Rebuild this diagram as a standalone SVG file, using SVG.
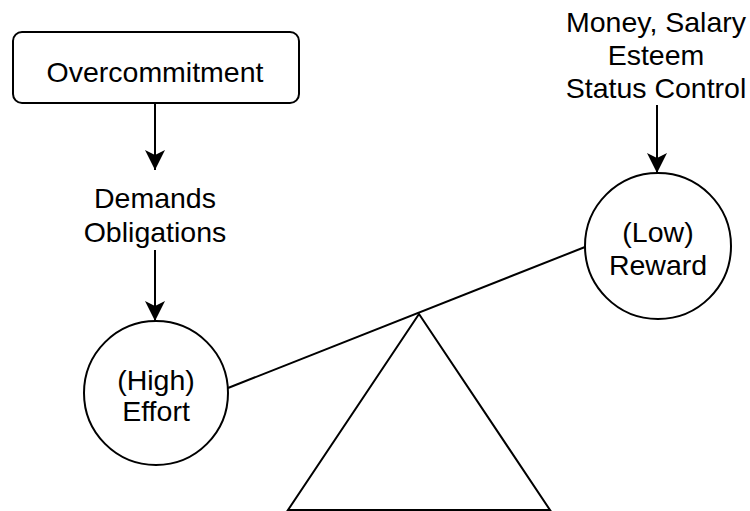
<svg xmlns="http://www.w3.org/2000/svg" width="750" height="511" viewBox="0 0 750 511">
  <style>
    .shape { fill: #ffffff; stroke: #000000; stroke-width: 2; }
    .edge { fill: none; stroke: #000000; stroke-width: 2; }
    .label { font-family: "Liberation Sans", Arial, Helvetica, sans-serif; font-size: 28.5px; fill: #000000; text-anchor: middle; }
  </style>
  <defs>
    <marker id="arrow" viewBox="0 0 20 20" refX="20" refY="10" markerWidth="20" markerHeight="20" markerUnits="userSpaceOnUse" orient="auto">
      <path d="M0,0 L20,10 L0,20 L5,10 Z" fill="#000000"/>
    </marker>
  </defs>

  <!-- connectors -->
  <g id="connectors">
    <line class="edge" x1="155" y1="103" x2="155" y2="170" marker-end="url(#arrow)"/>
    <line class="edge" x1="155" y1="250" x2="155" y2="321" marker-end="url(#arrow)"/>
    <line class="edge" x1="657" y1="105" x2="657" y2="173" marker-end="url(#arrow)"/>
    <!-- lever beam between the two circles -->
    <line class="edge" x1="228" y1="388" x2="585" y2="247"/>
  </g>

  <g id="overcommitment">
    <rect class="shape" x="13" y="32" width="286" height="71" rx="9" ry="9"/>
    <text class="label" x="155" y="82">Overcommitment</text>
  </g>

  <g id="demands">
    <text class="label" x="155" y="208">Demands</text>
    <text class="label" x="155" y="242">Obligations</text>
  </g>

  <g id="rewards-source">
    <text class="label" x="656" y="32">Money, Salary</text>
    <text class="label" x="656" y="65">Esteem</text>
    <text class="label" x="656" y="98">Status Control</text>
  </g>

  <g id="effort">
    <circle class="shape" cx="156" cy="393" r="72"/>
    <text class="label" x="156" y="390">(High)</text>
    <text class="label" x="156" y="421">Effort</text>
  </g>

  <g id="reward">
    <circle class="shape" cx="658" cy="246" r="73"/>
    <text class="label" x="658" y="242">(Low)</text>
    <text class="label" x="658" y="275">Reward</text>
  </g>

  <g id="fulcrum">
    <polygon class="shape" points="419,314 550,510 288,510"/>
  </g>
</svg>
